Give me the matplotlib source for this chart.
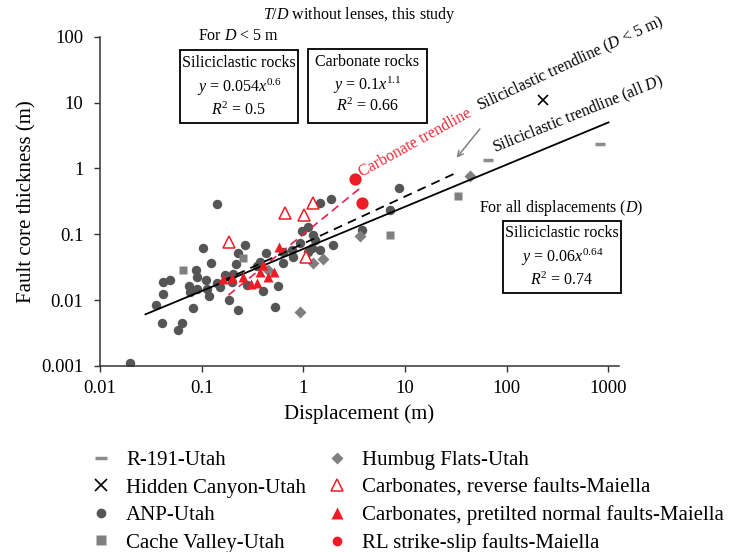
import matplotlib
matplotlib.use("Agg")
import matplotlib.pyplot as plt
from matplotlib.patches import Rectangle
from matplotlib.lines import Line2D

plt.rcParams['font.family'] = ['Liberation Serif', 'DejaVu Serif']
plt.rcParams['mathtext.fontset'] = 'custom'
plt.rcParams['mathtext.rm'] = 'Liberation Serif'
plt.rcParams['mathtext.it'] = 'Liberation Serif:italic'

# data (displacement m, thickness m)
r191_d = [65.8, 824]
r191_t = [1.34, 2.32]

hidden_d = [227]
hidden_t = [10.9]

anp_d = [0.0197, 0.0356, 0.0405, 0.0413, 0.0420, 0.0488, 0.0589, 0.0635, 0.0756, 0.0767,
         0.0815, 0.0879, 0.0893, 0.0906, 0.102, 0.110, 0.114, 0.119, 0.123, 0.141,
         0.141, 0.151, 0.170, 0.187, 0.197, 0.205, 0.218, 0.230, 0.230, 0.267,
         0.348, 0.375, 0.398, 0.430, 0.526, 0.567, 0.635, 0.635, 0.767, 0.797,
         0.927, 0.964, 1.12, 1.12, 1.21, 1.25, 1.30, 1.46, 1.46, 1.87,
         1.97, 3.75, 7.11, 8.73, 0.277]
anp_t = [0.00112, 0.00836, 0.00451, 0.0126, 0.0189, 0.0200, 0.00349, 0.00451, 0.0163, 0.0133,
         0.00771, 0.0291, 0.0225, 0.0150, 0.0608, 0.0205, 0.0150, 0.0115, 0.0360, 0.286,
         0.0179, 0.0159, 0.0239, 0.00996, 0.0189, 0.0253, 0.0352, 0.0511, 0.00702, 0.0682,
         0.0327, 0.0381, 0.0136, 0.0511, 0.00789, 0.0163, 0.0541, 0.0368, 0.0573, 0.0454,
         0.0724, 0.113, 0.130, 0.0541, 0.0608, 0.0991, 0.0832, 0.301, 0.0573, 0.337,
         0.0682, 0.115, 0.232, 0.495, 0.0168]

cache_d = [0.066, 0.253, 7.11, 33.0]
cache_t = [0.0291, 0.0438, 0.099, 0.385]

humbug_d = [0.927, 1.25, 1.57, 3.61, 43.5, 0.453]
humbug_t = [0.0065, 0.037, 0.0428, 0.0935, 0.77, 0.0284]

rev_d = [0.187, 0.66, 1.02, 1.25, 1.06]
rev_t = [0.075, 0.207, 0.195, 0.294, 0.0454]

pretilt_d = [0.161, 0.200, 0.253, 0.303, 0.348, 0.375, 0.404, 0.453, 0.519, 0.577]
pretilt_t = [0.0208, 0.0218, 0.0225, 0.0175, 0.0185, 0.0269, 0.0339, 0.0225, 0.0269, 0.063]

rl_d = [3.22, 3.80]
rl_t = [0.687, 0.30]

# trendlines as drawn
sil_all_d = [0.028, 1000]
sil_all_t = [0.06 * 0.028 ** 0.64, 0.06 * 1000 ** 0.64]
sil_d5_d = [0.16, 32]
sil_d5_t = [0.0195, 0.86]
carb_d = [0.183, 3.75]
carb_t = [0.0119, 0.526]

fig = plt.figure(figsize=(7.3, 5.52), dpi=100)
ax = fig.add_axes([0.137, 0.337, 0.711, 0.5966])

ax.plot(sil_all_d, sil_all_t, color='black', lw=1.3, zorder=4)
ax.plot(sil_d5_d, sil_d5_t, color='black', lw=1.3, ls=(0, (5, 3.5)), zorder=4)
ax.plot(carb_d, carb_t, color='#e8204e', lw=1.2, ls=(0, (5, 3)), zorder=4)

ax.plot(anp_d, anp_t, 'o', color='#555555', ms=6.8, mec='none', zorder=2)
ax.plot(cache_d, cache_t, 's', color='#7f7f7f', ms=6.2, mec='none', zorder=3)
ax.plot(humbug_d, humbug_t, 'D', color='#7f7f7f', ms=6.3, mec='none', zorder=3)
ax.plot(r191_d, r191_t, '_', color='#8c8c8c', ms=7.5, mew=2.5, zorder=3)
ax.plot(hidden_d, hidden_t, 'x', color='black', ms=7, mew=1.2, zorder=3)
ax.plot(rev_d, rev_t, '^', mfc='white', mec='#ee1c25', ms=8.5, mew=1.1, zorder=5)
ax.plot(pretilt_d, pretilt_t, '^', color='#ee1c25', ms=7.8, mec='none', zorder=5)
ax.plot(rl_d, rl_t, 'o', color='#ee1c25', ms=8.8, mec='none', zorder=5)

ax.set_xscale('log')
ax.set_yscale('log')
ax.set_xlim(0.01, 1270)
ax.set_ylim(0.001, 100)
ax.set_xticks([0.01, 0.1, 1, 10, 100, 1000])
ax.set_xticklabels(['0.01', '0.1', '1', '10', '100', '1000'])
ax.set_yticks([0.001, 0.01, 0.1, 1, 10, 100])
ax.set_yticklabels(['0.001', '0.01', '0.1', '1', '10', '100'])
ax.minorticks_off()
ax.tick_params(direction='out', length=4, width=1, colors='#333333', labelsize=13.5,
               labelcolor='black')
ax.tick_params(axis='y', pad=8)
ax.tick_params(axis='x', pad=6)
for s in ['top', 'right']:
    ax.spines[s].set_visible(False)
for s in ['left', 'bottom']:
    ax.spines[s].set_color('#333333')
    ax.spines[s].set_linewidth(1.1)

ax.set_xlabel('Displacement (m)', fontsize=15, labelpad=5)
ax.set_ylabel('Fault core thickness (m)', fontsize=15, labelpad=3)
ax.set_title(r'$T/D$ without lenses, this study', fontsize=11.5, pad=13)

# trendline labels
ax.text(3.9, 0.66, 'Carbonate trendline', color='#ee2a3a', fontsize=11.5,
        rotation=29, rotation_mode='anchor', ha='left', va='bottom')
ax.text(56.6, 6.2, r'Siliciclastic trendline ($D$ < 5 m)', fontsize=11.5,
        rotation=25, rotation_mode='anchor', ha='left', va='bottom')
ax.text(79.6, 1.45, r'Siliciclastic trendline (all $D$)', fontsize=11.5,
        rotation=22, rotation_mode='anchor', ha='left', va='bottom')
ax.annotate('', xy=(30.8, 1.34), xytext=(56.5, 4.28),
            arrowprops=dict(arrowstyle='->', color='#808080', lw=1.1))

# equation boxes (figure pixel layout)
W, H = 730.0, 552.0


def fbox(x0, x1, y0, y1):
    fig.patches.append(Rectangle((x0 / W, 1 - y1 / H), (x1 - x0) / W, (y1 - y0) / H,
                                 transform=fig.transFigure, fill=False, ec='black', lw=1.3))


def ftext(x, y, s, size=11.5):
    fig.text(x / W, 1 - y / H, s, ha='center', va='center', fontsize=size)


ftext(239, 36, r'For $D$ < 5 m')
fbox(180, 298, 50, 123)
ftext(239, 63, 'Siliciclastic rocks')
ftext(239, 87, r'$y$ = 0.054$x^{0.6}$')
ftext(239, 110, r'$R^2$ = 0.5')

fbox(308, 427, 49, 123)
ftext(367.5, 62, 'Carbonate rocks')
ftext(367.5, 85, r'$y$ = 0.1$x^{1.1}$')
ftext(367.5, 106, r'$R^2$ = 0.66')

ftext(561, 208, r'For all displacements ($D$)')
fbox(503, 621, 221, 293)
ftext(562, 233, 'Siliciclastic rocks')
ftext(562, 257, r'$y$ = 0.06$x^{0.64}$')
ftext(562, 280, r'$R^2$ = 0.74')

handles = [
    Line2D([], [], ls='none', marker='_', color='#8c8c8c', ms=8, mew=2.5),
    Line2D([], [], ls='none', marker='x', color='black', ms=8, mew=1.2),
    Line2D([], [], ls='none', marker='o', color='#555555', ms=7, mec='none'),
    Line2D([], [], ls='none', marker='s', color='#7f7f7f', ms=7, mec='none'),
    Line2D([], [], ls='none', marker='D', color='#7f7f7f', ms=5.8, mec='none'),
    Line2D([], [], ls='none', marker='^', mfc='white', mec='#ee1c25', ms=8, mew=1.1),
    Line2D([], [], ls='none', marker='^', color='#ee1c25', ms=8, mec='none'),
    Line2D([], [], ls='none', marker='o', color='#ee1c25', ms=7, mec='none'),
]
labels = ['R-191-Utah', 'Hidden Canyon-Utah', 'ANP-Utah', 'Cache Valley-Utah',
          'Humbug Flats-Utah', 'Carbonates, reverse faults-Maiella',
          'Carbonates, pretilted normal faults-Maiella', 'RL strike-slip faults-Maiella']
fig.legend(handles, labels, ncol=2, loc='upper left', bbox_to_anchor=(0.127, 0.184),
           frameon=False, fontsize=15, handlelength=0.8, handletextpad=0.8,
           columnspacing=1.1, labelspacing=0.38, borderaxespad=0, borderpad=0)

fig.savefig('out.png', dpi=100)
